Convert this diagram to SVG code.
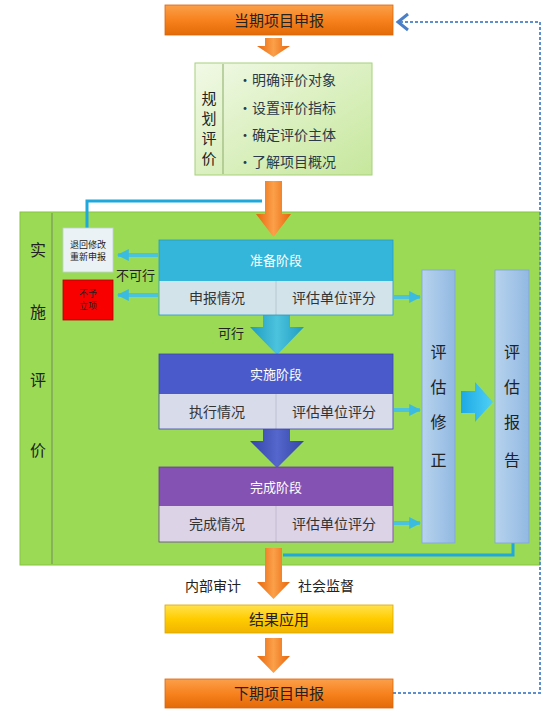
<svg xmlns="http://www.w3.org/2000/svg" width="550" height="716" viewBox="0 0 550 716">
<defs>
<linearGradient id="gOr" x1="0" y1="0" x2="0" y2="1"><stop offset="0" stop-color="#FBA04A"/><stop offset="0.5" stop-color="#F7821E"/><stop offset="1" stop-color="#E36A08"/></linearGradient>
<linearGradient id="gYe" x1="0" y1="0" x2="0" y2="1"><stop offset="0" stop-color="#FFE24D"/><stop offset="0.5" stop-color="#FFCC00"/><stop offset="1" stop-color="#F0B400"/></linearGradient>
<linearGradient id="gPl" x1="0" y1="0" x2="1" y2="1"><stop offset="0" stop-color="#F1F9E6"/><stop offset="1" stop-color="#C6E79C"/></linearGradient>
<linearGradient id="gArr" x1="0" y1="0" x2="1" y2="0"><stop offset="0" stop-color="#E8660A"/><stop offset="0.5" stop-color="#FBA04A"/><stop offset="1" stop-color="#E8660A"/></linearGradient>
<linearGradient id="gTeal" x1="0" y1="0" x2="1" y2="0"><stop offset="0" stop-color="#1E9CC0"/><stop offset="0.5" stop-color="#4CC3DE"/><stop offset="1" stop-color="#1E9CC0"/></linearGradient>
<linearGradient id="gNavy" x1="0" y1="0" x2="1" y2="0"><stop offset="0" stop-color="#3446A8"/><stop offset="0.5" stop-color="#5566CC"/><stop offset="1" stop-color="#3446A8"/></linearGradient>
<linearGradient id="gCol" x1="0" y1="0" x2="1" y2="0"><stop offset="0" stop-color="#B7D3EE"/><stop offset="1" stop-color="#92B9E2"/></linearGradient>
<linearGradient id="gBig" x1="0" y1="0" x2="1" y2="0"><stop offset="0" stop-color="#1DA9E6"/><stop offset="1" stop-color="#4FD0F5"/></linearGradient>
<marker id="mB" viewBox="0 0 10 10" refX="9" refY="5" markerWidth="3" markerHeight="3" orient="auto"><path d="M0,0 L10,5 L0,10 z" fill="#3BBBE0"/></marker>
</defs>
<style>
text{font-family:"Noto Sans CJK SC","Liberation Sans",sans-serif;}
.t15{font-size:15px;fill:#222;}
.tw{font-size:13px;fill:#fff;}
.tr{font-size:14px;fill:#333;}
.tb{font-size:14px;fill:#2a3a4a;}
.small{font-size:9px;fill:#222;}
.vert{font-size:16px;fill:#222;}
.vs{font-size:15px;fill:#222;}
.sa{stroke:#4CC3DE;stroke-width:4;fill:none;}
</style>

<g id="n-shishi">
<rect x="20" y="212" width="520" height="353" fill="#9BDA55" stroke="#86C440" stroke-width="1"/>
<line x1="52" y1="213" x2="52" y2="564" stroke="#86B25A" stroke-width="2"/>
<text class="vert" text-anchor="middle"><tspan x="38" y="256">实</tspan><tspan x="38" y="318">施</tspan><tspan x="38" y="386">评</tspan><tspan x="38" y="456">价</tspan></text>
</g>

<g id="connectors">
<!-- dashed feedback loop -->
<path d="M393,693 H540 V22 H400" fill="none" stroke="#5B8FD0" stroke-width="2" stroke-dasharray="3,2"/>
<path d="M408,14 L398,22 L408,30" fill="none" stroke="#4A7FC8" stroke-width="3"/>
<!-- arrows orange -->
<path d="M265,38 H282 V46 H290 L273.5,57 L257,46 H265 Z" fill="url(#gArr)"/>
<path d="M265,181 H282 V214 H291 L273.5,237 L256,214 H265 Z" fill="url(#gArr)"/>
<!-- return line -->
<path d="M87,229 V201 H262" fill="none" stroke="#1FA8DC" stroke-width="3"/>
<!-- arrows to left boxes -->
<line x1="158" y1="255" x2="118" y2="255" class="sa" marker-end="url(#mB)"/>
<line x1="158" y1="295" x2="118" y2="295" class="sa" marker-end="url(#mB)"/>
<!-- stage arrows -->
<path d="M263,315 H290 V327 H304 L277,355 L250,327 H263 Z" fill="url(#gTeal)"/>
<path d="M263,429 H290 V441 H304 L277,468 L250,441 H263 Z" fill="url(#gNavy)"/>
<!-- small arrows to 评估修正 -->
<line x1="394" y1="297" x2="420" y2="297" class="sa" marker-end="url(#mB)"/>
<line x1="394" y1="410" x2="420" y2="410" class="sa" marker-end="url(#mB)"/>
<line x1="394" y1="523" x2="420" y2="523" class="sa" marker-end="url(#mB)"/>
<!-- big arrow -->
<path d="M461,391 H475 V382 L493,402 L475,422 V413 H461 Z" fill="url(#gBig)"/>
<!-- report to bottom line -->
<path d="M513,543 V555 H283" fill="none" stroke="#1FA8DC" stroke-width="3"/>
<!-- lower arrows -->
<path d="M265,548 H282 V582 H290 L273.5,599 L257,582 H265 Z" fill="url(#gArr)"/>
<path d="M265,638 H282 V656 H290 L273.5,673 L257,656 H265 Z" fill="url(#gArr)"/>
</g>

<g id="n-dangqi">
<rect x="165" y="5" width="228" height="30" fill="url(#gOr)" stroke="#D9650C" stroke-width="0.8"/>
<text x="279" y="26" text-anchor="middle" class="t15">当期项目申报</text>
</g>

<g id="n-guihua">
<rect x="195" y="63" width="177" height="112" fill="url(#gPl)" stroke="#A8D07A" stroke-width="1"/>
<line x1="223" y1="64" x2="223" y2="174" stroke="#9AB87A" stroke-width="1.2"/>
<text class="vs" text-anchor="middle"><tspan x="209" y="104">规</tspan><tspan x="209" y="124">划</tspan><tspan x="209" y="144">评</tspan><tspan x="209" y="164">价</tspan></text>
<text class="tb"><tspan x="238" y="85">•明确评价对象</tspan><tspan x="238" y="113">•设置评价指标</tspan><tspan x="238" y="140">•确定评价主体</tspan><tspan x="238" y="167">•了解项目概况</tspan></text>
</g>

<g id="n-tuihui">
<rect x="63" y="228" width="50" height="44" fill="#EAF2F6" stroke="#C0CFD8" stroke-width="0.8"/>
<text class="small" text-anchor="middle"><tspan x="88" y="248">退回修改</tspan><tspan x="88" y="260">重新申报</tspan></text>
</g>

<g id="n-buyu">
<rect x="63" y="280" width="50" height="40" fill="#F80000" stroke="#B00000" stroke-width="0.8"/>
<text class="small" text-anchor="middle"><tspan x="88" y="297">不予</tspan><tspan x="88" y="309">立项</tspan></text>
</g>

<text x="116" y="280" font-size="13" fill="#222">不可行</text>
<text x="218" y="338" font-size="13" fill="#222">可行</text>

<g id="n-zhunbei">
<rect x="159" y="240" width="234" height="41" fill="#33B6DA"/>
<rect x="159" y="281" width="234" height="34" fill="#D3E3EA"/>
<line x1="276" y1="281" x2="276" y2="315" stroke="#B8C8D0"/>
<rect x="159" y="240" width="234" height="75" fill="none" stroke="#2A9CBC" stroke-width="0.8"/>
<text x="276" y="265" text-anchor="middle" class="tw">准备阶段</text>
<text x="217" y="303" text-anchor="middle" class="tr">申报情况</text>
<text x="334" y="303" text-anchor="middle" class="tr">评估单位评分</text>
</g>

<g id="n-shishijd">
<rect x="159" y="354" width="234" height="40" fill="#4A5ACA"/>
<rect x="159" y="394" width="234" height="35" fill="#D8DBEA"/>
<line x1="276" y1="394" x2="276" y2="429" stroke="#BCC0D2"/>
<rect x="159" y="354" width="234" height="75" fill="none" stroke="#3A48A8" stroke-width="0.8"/>
<text x="276" y="379" text-anchor="middle" class="tw">实施阶段</text>
<text x="217" y="417" text-anchor="middle" class="tr">执行情况</text>
<text x="334" y="417" text-anchor="middle" class="tr">评估单位评分</text>
</g>

<g id="n-wancheng">
<rect x="159" y="467" width="234" height="39" fill="#8452B2"/>
<rect x="159" y="506" width="234" height="36" fill="#DCD3E6"/>
<line x1="276" y1="506" x2="276" y2="542" stroke="#C4BAD0"/>
<rect x="159" y="467" width="234" height="75" fill="none" stroke="#6C3E98" stroke-width="0.8"/>
<text x="276" y="492" text-anchor="middle" class="tw">完成阶段</text>
<text x="217" y="529" text-anchor="middle" class="tr">完成情况</text>
<text x="334" y="529" text-anchor="middle" class="tr">评估单位评分</text>
</g>

<g id="n-xiuzheng">
<rect x="422" y="270" width="33" height="273" fill="url(#gCol)" stroke="#7FA6CF" stroke-width="0.8"/>
<text class="vert" text-anchor="middle"><tspan x="438.5" y="358">评</tspan><tspan x="438.5" y="393">估</tspan><tspan x="438.5" y="428">修</tspan><tspan x="438.5" y="466">正</tspan></text>
</g>

<g id="n-baogao">
<rect x="495" y="270" width="34" height="273" fill="url(#gCol)" stroke="#7FA6CF" stroke-width="0.8"/>
<text class="vert" text-anchor="middle"><tspan x="512" y="358">评</tspan><tspan x="512" y="393">估</tspan><tspan x="512" y="428">报</tspan><tspan x="512" y="466">告</tspan></text>
</g>

<text x="185" y="591" font-size="14" fill="#222">内部审计</text>
<text x="298" y="591" font-size="14" fill="#222">社会监督</text>

<g id="n-jieguo">
<rect x="165" y="605" width="228" height="28" fill="url(#gYe)" stroke="#D9A800" stroke-width="0.8"/>
<text x="279" y="625" text-anchor="middle" class="t15">结果应用</text>
</g>

<g id="n-xiaqi">
<rect x="165" y="679" width="228" height="29" fill="url(#gOr)" stroke="#D9650C" stroke-width="0.8"/>
<text x="279" y="699" text-anchor="middle" class="t15">下期项目申报</text>
</g>
</svg>
